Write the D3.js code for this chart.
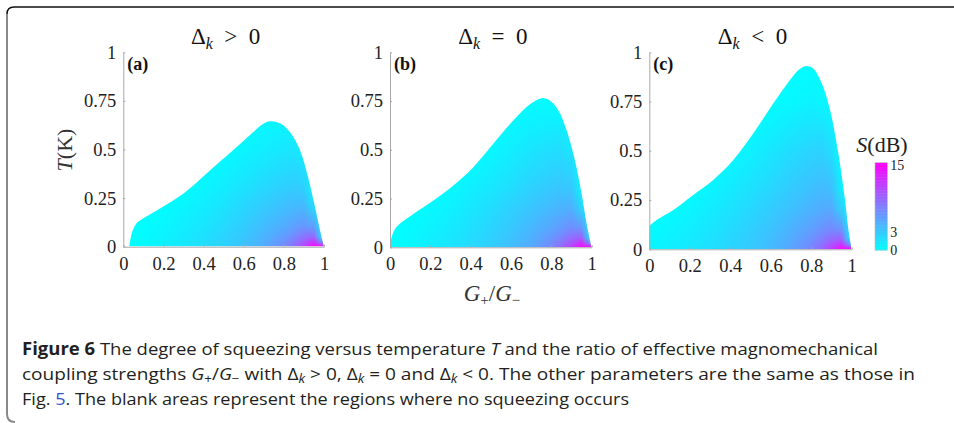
<!DOCTYPE html>
<html><head><meta charset="utf-8">
<script src="https://cdn.jsdelivr.net/npm/d3@7"></script>
<style>
html,body{margin:0;padding:0;background:#fff;}
svg{display:block;}
</style></head>
<body>
<svg id="chart" width="954" height="423"></svg>
<script>
// ---------- DATA ----------
const xTicks = [0, 0.2, 0.4, 0.6, 0.8, 1];
const yTicks = [0, 0.25, 0.5, 0.75, 1];
const yTickLabels = ["0", "0.25", "0.5", "0.75", "1"];
const xTickLabels = ["0", "0.2", "0.4", "0.6", "0.8", "1"];
const cbTicks = [0, 3, 15];
const panelLabels = ["(a)", "(b)", "(c)"];
const panelSigns = [">", "=", "<"];

// boundary of the squeezing region (G+/G-, T_max)
const boundGA = [0.03, 0.042, 0.066, 0.1, 0.183, 0.3, 0.415, 0.548, 0.648, 0.698, 0.731, 0.78, 0.83, 0.88, 0.92, 0.955, 0.98, 1];
const boundTA = [0, 0.068, 0.12, 0.146, 0.197, 0.274, 0.377, 0.497, 0.59, 0.632, 0.645, 0.635, 0.59, 0.497, 0.36, 0.205, 0.086, 0];
const boundGB = [0, 0.008, 0.025, 0.058, 0.116, 0.215, 0.314, 0.413, 0.512, 0.612, 0.694, 0.752, 0.793, 0.835, 0.876, 0.917, 0.95, 0.975, 1];
const boundTB = [0, 0.051, 0.094, 0.128, 0.171, 0.24, 0.317, 0.411, 0.531, 0.651, 0.733, 0.765, 0.752, 0.702, 0.599, 0.445, 0.274, 0.12, 0];
const boundGC = [0, 0.036, 0.119, 0.217, 0.316, 0.415, 0.514, 0.613, 0.695, 0.745, 0.778, 0.811, 0.852, 0.893, 0.934, 0.967, 0.984, 1];
const boundTC = [0.118, 0.149, 0.2, 0.276, 0.352, 0.453, 0.589, 0.741, 0.86, 0.917, 0.931, 0.917, 0.843, 0.707, 0.487, 0.25, 0.098, 0];

// squeezing S (dB) sampled on a grid: rows = T, columns = G+/G-
const gGrid = [0, 0.1, 0.2, 0.3, 0.4, 0.5, 0.6, 0.7, 0.8, 0.85, 0.9, 0.95, 1];
const tGrid = [0, 0.02, 0.05, 0.1, 0.2, 0.3, 0.5, 0.75, 1];
const sA = [
  [0, 0.3, 0.8, 1.3, 1.9, 2.7, 3.6, 4.9, 6.8, 8.5, 11, 14.5, 15],
  [0, 0.3, 0.8, 1.3, 1.9, 2.6, 3.5, 4.7, 6.5, 8.0, 10, 12.5, 6],
  [0, 0.2, 0.7, 1.2, 1.8, 2.5, 3.3, 4.4, 5.8, 6.9, 8.2, 9, 0],
  [0, 0.1, 0.5, 1.0, 1.5, 2.2, 3.0, 3.9, 4.9, 5.6, 6.2, 5.8, 0],
  [0, 0, 0.2, 0.6, 1.1, 1.7, 2.4, 3.1, 3.8, 4.1, 4.3, 2.2, 0],
  [0, 0, 0, 0.1, 0.6, 1.1, 1.7, 2.3, 2.8, 3.0, 2.8, 0.5, 0],
  [0, 0, 0, 0, 0, 0.1, 0.6, 1.0, 1.4, 1.5, 1.0, 0, 0],
  [0, 0, 0, 0, 0, 0, 0, 0, 0, 0, 0, 0, 0],
  [0, 0, 0, 0, 0, 0, 0, 0, 0, 0, 0, 0, 0]
];
const sB = [
  [0.2, 0.5, 1.0, 1.5, 2.1, 2.9, 3.8, 5.1, 7.0, 8.7, 11.2, 14.5, 15],
  [0.1, 0.5, 1.0, 1.5, 2.1, 2.8, 3.7, 4.9, 6.7, 8.2, 10.2, 12.5, 6],
  [0, 0.4, 0.9, 1.4, 2.0, 2.7, 3.5, 4.6, 6.1, 7.2, 8.5, 9.2, 0],
  [0, 0.3, 0.7, 1.2, 1.8, 2.5, 3.2, 4.2, 5.2, 5.9, 6.6, 6.1, 0],
  [0, 0.1, 0.4, 0.8, 1.4, 2.0, 2.7, 3.4, 4.1, 4.5, 4.7, 2.4, 0],
  [0, 0, 0.1, 0.4, 0.9, 1.4, 2.0, 2.7, 3.2, 3.4, 3.2, 0.7, 0],
  [0, 0, 0, 0, 0.1, 0.4, 1.0, 1.5, 1.9, 2.0, 1.5, 0, 0],
  [0, 0, 0, 0, 0, 0, 0, 0.2, 0.2, 0.1, 0, 0, 0],
  [0, 0, 0, 0, 0, 0, 0, 0, 0, 0, 0, 0, 0]
];
const sC = [
  [0.6, 0.9, 1.3, 1.8, 2.4, 3.1, 4.0, 5.3, 7.2, 8.9, 11.5, 14.5, 15],
  [0.5, 0.9, 1.3, 1.8, 2.4, 3.1, 3.9, 5.1, 6.9, 8.4, 10.4, 12.5, 6],
  [0.4, 0.8, 1.2, 1.7, 2.3, 3.0, 3.8, 4.9, 6.4, 7.5, 8.8, 9.4, 0],
  [0.1, 0.6, 1.0, 1.5, 2.1, 2.8, 3.5, 4.5, 5.6, 6.3, 7.0, 6.3, 0],
  [0, 0.2, 0.6, 1.1, 1.7, 2.3, 3.0, 3.7, 4.5, 4.9, 5.1, 2.7, 0],
  [0, 0, 0.2, 0.6, 1.2, 1.8, 2.4, 3.1, 3.7, 4.0, 3.8, 1.0, 0],
  [0, 0, 0, 0, 0.3, 0.8, 1.4, 2.0, 2.5, 2.6, 2.0, 0, 0],
  [0, 0, 0, 0, 0, 0, 0.1, 0.4, 0.7, 0.6, 0.2, 0, 0],
  [0, 0, 0, 0, 0, 0, 0, 0, 0, 0, 0, 0, 0]
];

// ---------- LAYOUT ----------
const svg = d3.select("#chart");
const serif = "'Liberation Serif','Times New Roman',serif";
const sans = "'Open Sans','Noto Sans','Liberation Sans',sans-serif";
const axisColor = "#a8a8a8";

const color = d3.scaleLinear().domain([0, 15]).range(["#00ffff", "#ff00ff"]).interpolate(d3.interpolateRgb).clamp(true);

// frame
svg.append("path").attr("d", "M7,14 L7,414 Q7,422 15,422")
  .attr("fill", "none").attr("stroke", "#8a8a8a").attr("stroke-width", 2);
svg.append("path").attr("d", "M7,14 Q7,7 14,7 L954,7")
  .attr("fill", "none").attr("stroke", "#111").attr("stroke-width", 1.5);

const panels = [
  {x0: 123.3, x1: 324, y0: 246.7, y1: 52.3, bg: boundGA, bt: boundTA, s: sA},
  {x0: 390, x1: 591.7, y0: 247.3, y1: 52.3, bg: boundGB, bt: boundTB, s: sB},
  {x0: 649.3, x1: 851.7, y0: 249.3, y1: 52.3, bg: boundGC, bt: boundTC, s: sC}
];

function sampleS(grid, g, t) {
  let i = d3.bisectRight(gGrid, g) - 1;
  i = Math.max(0, Math.min(gGrid.length - 2, i));
  let j = d3.bisectRight(tGrid, t) - 1;
  j = Math.max(0, Math.min(tGrid.length - 2, j));
  const fx = Math.max(0, Math.min(1, (g - gGrid[i]) / (gGrid[i + 1] - gGrid[i])));
  const fy = Math.max(0, Math.min(1, (t - tGrid[j]) / (tGrid[j + 1] - tGrid[j])));
  const a = grid[j][i], b = grid[j][i + 1], c = grid[j + 1][i], d = grid[j + 1][i + 1];
  return (a * (1 - fx) + b * fx) * (1 - fy) + (c * (1 - fx) + d * fx) * fy;
}

const defs = svg.append("defs");

panels.forEach((p, k) => {
  const x = d3.scaleLinear().domain([0, 1]).range([p.x0, p.x1]);
  const y = d3.scaleLinear().domain([0, 1]).range([p.y0, p.y1]);
  const g = svg.append("g");

  // heat field raster (interpolated shading of the sampled grid)
  const W = Math.round(p.x1 - p.x0), H = Math.round(p.y0 - p.y1);
  const cv = document.createElement("canvas");
  cv.width = W; cv.height = H;
  const ctx = cv.getContext("2d");
  const img = ctx.createImageData(W, H);
  for (let py = 0; py < H; py++) {
    const t = y.invert(p.y1 + py + 0.5);
    for (let px = 0; px < W; px++) {
      const gv = x.invert(p.x0 + px + 0.5);
      const c = d3.rgb(color(sampleS(p.s, gv, Math.max(0, t))));
      const o = (py * W + px) * 4;
      img.data[o] = c.r; img.data[o + 1] = c.g; img.data[o + 2] = c.b; img.data[o + 3] = 255;
    }
  }
  ctx.putImageData(img, 0, 0);

  const pts = p.bg.map((gv, i) => ({g: gv, t: p.bt[i]}));
  const area = d3.area().x(d => x(d.g)).y0(y(0)).y1(d => Math.min(y(0), y(d.t))).curve(d3.curveCatmullRom.alpha(0.5));
  defs.append("clipPath").attr("id", "clip" + k).append("path").attr("d", area(pts));
  g.append("image").attr("href", cv.toDataURL())
    .attr("x", p.x0).attr("y", p.y1).attr("width", W).attr("height", H)
    .attr("preserveAspectRatio", "none")
    .attr("clip-path", "url(#clip" + k + ")");

  // axes
  const yAxis = d3.axisLeft(y).tickValues(yTicks).tickFormat((d, i) => yTickLabels[i]).tickSizeInner(-2).tickSizeOuter(0).tickPadding(7);
  const gy = g.append("g").attr("transform", `translate(${p.x0},0)`).call(yAxis);
  const xAxis = d3.axisBottom(x).tickValues(xTicks).tickFormat((d, i) => xTickLabels[i]).tickSizeInner(-2).tickSizeOuter(0).tickPadding(10);
  const gx = g.append("g").attr("transform", `translate(0,${p.y0})`).call(xAxis);
  [gx, gy].forEach(a => {
    a.select(".domain").attr("stroke", axisColor).attr("stroke-width", 1);
    a.selectAll(".tick line").attr("stroke", axisColor);
    a.selectAll(".tick text").attr("font-family", serif).attr("font-size", 18.5).attr("fill", "#222");
  });
  gx.selectAll(".tick text").attr("dy", "0.71em");

  // panel label
  g.append("text").attr("x", p.x0 + 4).attr("y", p.y1 + 18)
    .attr("font-family", serif).attr("font-weight", "bold").attr("font-size", 18).attr("fill", "#111")
    .text(panelLabels[k]);

  // title
  const tt = g.append("text").attr("x", (p.x0 + p.x1) / 2 + 2).attr("y", 44)
    .attr("text-anchor", "middle").attr("font-family", serif).attr("font-size", 23).attr("fill", "#111")
    .attr("xml:space", "preserve");
  tt.append("tspan").text("Δ");
  tt.append("tspan").attr("font-style", "italic").attr("font-size", 16).attr("dy", 5).text("k");
  tt.append("tspan").attr("dy", -5).text("\u2002" + panelSigns[k] + "\u20020");
});

// y axis label
const yl = svg.append("text").attr("transform", "translate(72,150) rotate(-90)")
  .attr("text-anchor", "middle").attr("font-family", serif).attr("font-size", 22).attr("fill", "#333");
yl.append("tspan").attr("font-style", "italic").text("T");
yl.append("tspan").text("(K)");

// x axis label
const xl = svg.append("text").attr("x", 492).attr("y", 301)
  .attr("text-anchor", "middle").attr("font-family", serif).attr("font-size", 23).attr("fill", "#333");
xl.append("tspan").attr("font-style", "italic").text("G");
xl.append("tspan").attr("font-size", 15).attr("dy", 4).text("+");
xl.append("tspan").attr("dy", -4).text("/");
xl.append("tspan").attr("font-style", "italic").text("G");
xl.append("tspan").attr("font-size", 15).attr("dy", 4).text("−");

// colorbar
const cbX = 875, cbW = 12.3;
const cbY = d3.scaleLinear().domain([0, 15]).range([250, 162.7]);
const cbSteps = d3.range(0, 15, 0.25);
svg.append("g").selectAll("rect").data(cbSteps).join("rect")
  .attr("x", cbX).attr("width", cbW)
  .attr("y", d => cbY(d + 0.25)).attr("height", d => cbY(d) - cbY(d + 0.25) + 0.5)
  .attr("fill", d => color(d + 0.125));
svg.append("rect").attr("x", cbX).attr("y", cbY(15)).attr("width", cbW).attr("height", cbY(0) - cbY(15))
  .attr("fill", "none").attr("stroke", "#bbb").attr("stroke-width", 0.6);
svg.append("g").selectAll("text").data(cbTicks).join("text")
  .attr("x", cbX + cbW + 3).attr("y", d => cbY(d) + (d === 15 ? 2 : 0)).attr("dy", "0.35em")
  .attr("font-family", serif).attr("font-size", 14).attr("fill", "#222")
  .text(d => d);
const cbt = svg.append("text").attr("x", 882).attr("y", 152).attr("text-anchor", "middle")
  .attr("font-family", serif).attr("font-size", 22).attr("fill", "#222");
cbt.append("tspan").attr("font-style", "italic").text("S");
cbt.append("tspan").text("(dB)");

// caption
const cap = svg.append("g").attr("font-family", sans).attr("font-size", 17).attr("fill", "#231f20");
const l1 = cap.append("text").attr("x", 22).attr("y", 355).attr("textLength", 856).attr("lengthAdjust", "spacingAndGlyphs");
l1.append("tspan").attr("font-weight", "bold").text("Figure 6");
l1.append("tspan").text("  The degree of squeezing versus temperature ");
l1.append("tspan").attr("font-style", "italic").text("T");
l1.append("tspan").text(" and the ratio of effective magnomechanical");

const l2 = cap.append("text").attr("x", 22).attr("y", 380).attr("textLength", 893).attr("lengthAdjust", "spacingAndGlyphs");
l2.append("tspan").text("coupling strengths ");
l2.append("tspan").attr("font-style", "italic").text("G");
l2.append("tspan").attr("font-size", 12).attr("dy", 3).text("+");
l2.append("tspan").attr("dy", -3).text("/");
l2.append("tspan").attr("font-style", "italic").text("G");
l2.append("tspan").attr("font-size", 12).attr("dy", 3).text("−");
l2.append("tspan").attr("dy", -3).text(" with Δ");
l2.append("tspan").attr("font-style", "italic").attr("font-size", 12).attr("dy", 3).text("k");
l2.append("tspan").attr("dy", -3).text(" > 0, Δ");
l2.append("tspan").attr("font-style", "italic").attr("font-size", 12).attr("dy", 3).text("k");
l2.append("tspan").attr("dy", -3).text(" = 0 and Δ");
l2.append("tspan").attr("font-style", "italic").attr("font-size", 12).attr("dy", 3).text("k");
l2.append("tspan").attr("dy", -3).text(" < 0. The other parameters are the same as those in");

const l3 = cap.append("text").attr("x", 22).attr("y", 405).attr("textLength", 607).attr("lengthAdjust", "spacingAndGlyphs");
l3.append("tspan").text("Fig. ");
l3.append("tspan").attr("fill", "#3355cc").text("5");
l3.append("tspan").text(". The blank areas represent the regions where no squeezing occurs");
</script>
</body></html>
